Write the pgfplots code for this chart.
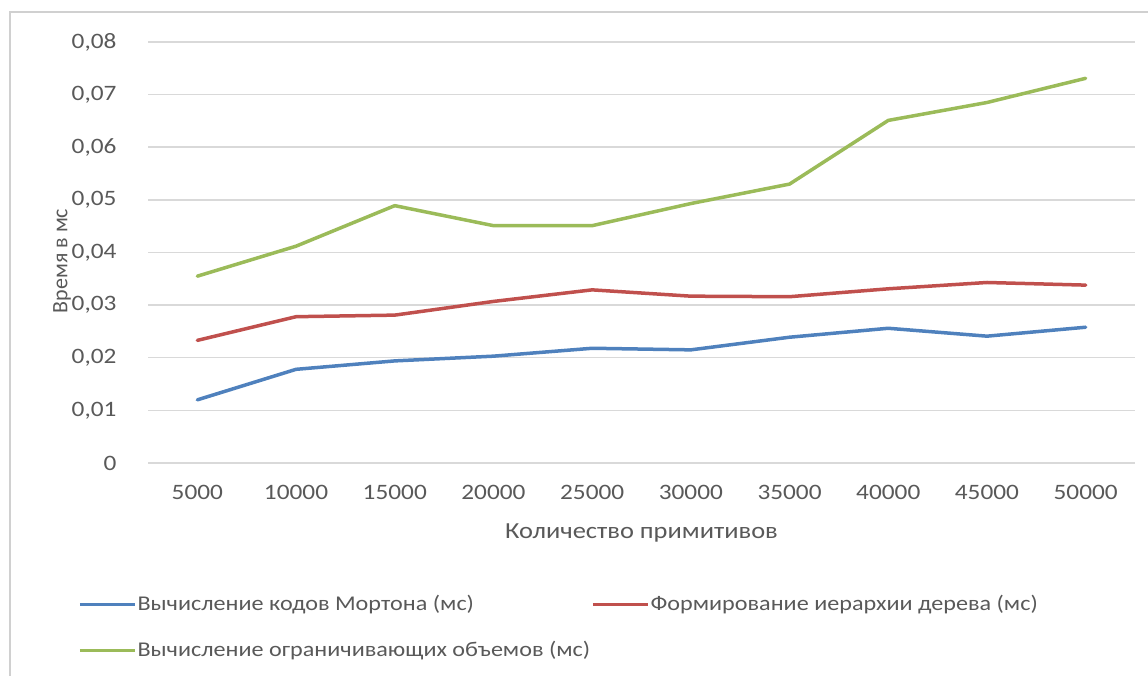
\documentclass[border=0pt]{standalone}
\usepackage{pgfplots}
\pgfplotsset{compat=1.18}
\usepackage{fontspec}
\setmainfont[FakeStretch=1.15]{Carlito}
\newfontfamily\uprightfont{Carlito}
\definecolor{txt}{HTML}{595959}
\definecolor{gridc}{HTML}{D9D9D9}
\definecolor{frame}{HTML}{D0D0D0}
\definecolor{sblue}{HTML}{4F81BD}
\definecolor{sred}{HTML}{C0504D}
\definecolor{sgreen}{HTML}{9BBB59}
\begin{document}
\fontsize{22}{26}\selectfont
\begin{tikzpicture}
\path[use as bounding box] (0pt,0pt) rectangle (1148pt,676pt);
% chart frame
\draw[frame, line width=2pt] (10pt,0pt) -- (10pt,664pt) -- (1148pt,664pt);
\begin{axis}[
  at={(148pt,213pt)}, anchor=south west,
  scale only axis, width=987pt, height=421pt,
  xmin=0.5, xmax=10.5, ymin=0, ymax=0.08,
  scaled y ticks=false,
  xtick={1,2,3,4,5,6,7,8,9,10},
  xticklabels={5000,10000,15000,20000,25000,30000,35000,40000,45000,50000},
  ytick={0,0.01,0.02,0.03,0.04,0.05,0.06,0.07,0.08},
  yticklabels={0,{0,01},{0,02},{0,03},{0,04},{0,05},{0,06},{0,07},{0,08}},
  ymajorgrids, grid style={gridc, line width=1.5pt},
  axis line style={draw=none},
  major tick length=0pt,
  tick label style={text=txt, font=\fontsize{22}{26}\selectfont},
  yticklabel style={xshift=-24pt},
  xticklabel style={yshift=-15pt},
  xlabel={Количество примитивов},
  ylabel={Время в мс},
  label style={text=txt, font=\fontsize{23}{27}\selectfont},
  xlabel style={at={(axis description cs:0.5,0)}, anchor=center, yshift=-70pt},
  ylabel style={at={(axis description cs:0,0.48)}, anchor=center, yshift=86pt,
    font=\uprightfont\fontsize{22}{26}\selectfont},
  every axis plot/.append style={line width=3.5pt, line join=round, line cap=round},
  legend columns=2,
  legend cell align=left,
  legend style={
    at={(axis description cs:-0.0709,-0.312)}, anchor=north west,
    draw=none, fill=none, inner sep=0pt, outer sep=0pt,
    font=\fontsize{21}{24}\selectfont, text=txt,
    row sep=25pt, column sep=0pt,
    nodes={inner sep=1pt},
  },
  legend image code/.code={\draw[#1, line cap=butt] (0pt,0pt) -- (55pt,0pt);},
]
\addplot[sblue] coordinates {
  (1,0.0120) (2,0.0178) (3,0.0194) (4,0.0203) (5,0.0218)
  (6,0.0215) (7,0.0239) (8,0.0256) (9,0.0241) (10,0.0258)};
\addlegendentry{Вычисление кодов Мортона (мс)}
\addplot[sred] coordinates {
  (1,0.0233) (2,0.0278) (3,0.0281) (4,0.0307) (5,0.0329)
  (6,0.0317) (7,0.0316) (8,0.0331) (9,0.0343) (10,0.0338)};
\addlegendentry{Формирование иерархии дерева (мс)}
\addplot[sgreen] coordinates {
  (1,0.0355) (2,0.0412) (3,0.0489) (4,0.0451) (5,0.0451)
  (6,0.0493) (7,0.0530) (8,0.0651) (9,0.0685) (10,0.0731)};
\addlegendentry{Вычисление ограничивающих объемов (мс)}
\end{axis}
\end{tikzpicture}
\end{document}
